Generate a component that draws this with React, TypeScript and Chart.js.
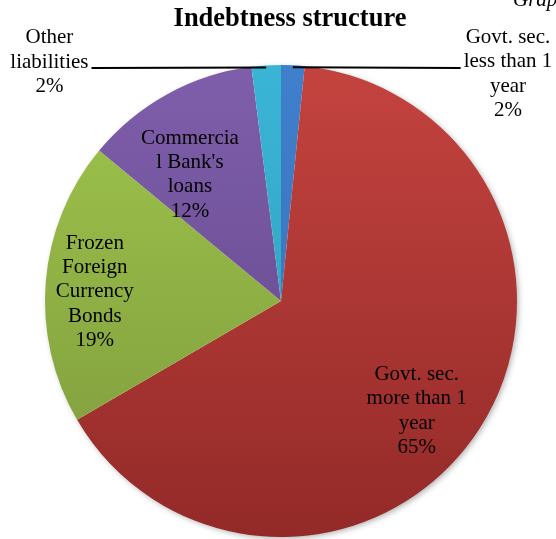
import React, { useEffect, useRef } from "react";
import { Chart, registerables } from "chart.js";

Chart.register(...registerables);

const categories = [
  "Govt. sec. less than 1 year",
  "Govt. sec. more than 1 year",
  "Frozen Foreign Currency Bonds",
  "Commercial Bank's loans",
  "Other liabilities",
];
const values = [1.6, 65.0, 19.4, 12.0, 2.0];
const percentLabels = ["2%", "65%", "19%", "12%", "2%"];
const labelLines = [
  ["Govt. sec.", "less than 1", "year", "2%"],
  ["Govt. sec.", "more than 1", "year", "65%"],
  ["Frozen", "Foreign", "Currency", "Bonds", "19%"],
  ["Commercia", "l Bank's", "loans", "12%"],
  ["Other", "liabilities", "2%"],
];
// label placement: angle (deg clockwise from 12 o'clock) and radius fraction
const labelAngles = [45, 129, 272.8, 324.2, 315.9];
const labelRadii = [1.36, 0.74, 0.79, 0.66, 1.41];
const hasLeader = [true, false, false, false, true];
const title = "Indebtness structure";

const topColors = ["#3f7fcc", "#c4433f", "#a0c64c", "#7f5eab", "#3ab5d6"];
const bottomColors = ["#3a6fb5", "#932a28", "#7c983c", "#5f4586", "#2f9ab6"];

const FONT = '"Liberation Serif", "Times New Roman", serif';

export default function App() {
  const ref = useRef<HTMLCanvasElement | null>(null);
  useEffect(() => {
    if (!ref.current) return;
    const shadowPlugin = {
      id: "shadow",
      beforeDatasetsDraw(chart: any) {
        const meta = chart.getDatasetMeta(0);
        const a = meta.data[0];
        if (!a) return;
        const ctx = chart.ctx;
        ctx.save();
        ctx.shadowColor = "rgba(0,0,0,0.35)";
        ctx.shadowBlur = 6;
        ctx.shadowOffsetX = 2;
        ctx.shadowOffsetY = 2;
        ctx.fillStyle = "#ffffff";
        ctx.beginPath();
        ctx.arc(a.x, a.y, a.outerRadius - 1, 0, Math.PI * 2);
        ctx.fill();
        ctx.restore();
      },
    };
    const labelPlugin = {
      id: "labels",
      afterDatasetsDraw(chart: any) {
        const meta = chart.getDatasetMeta(0);
        const ctx = chart.ctx;
        ctx.save();
        // title
        ctx.fillStyle = "#000";
        ctx.font = `bold 26.5px ${FONT}`;
        ctx.textAlign = "center";
        ctx.textBaseline = "middle";
        ctx.fillText(title, 290, 19);
        // corner caption (cut off)
        ctx.font = `italic 21px ${FONT}`;
        ctx.textAlign = "left";
        ctx.textBaseline = "alphabetic";
        ctx.fillText("Graph 1", 513, 6);

        ctx.font = `21px ${FONT}`;
        ctx.textAlign = "center";
        ctx.textBaseline = "middle";
        const lh = 24.3;
        meta.data.forEach((arc: any, i: number) => {
          const cx = arc.x, cy = arc.y, R = arc.outerRadius;
          const ang = (labelAngles[i] * Math.PI) / 180;
          const lx = cx + Math.sin(ang) * R * labelRadii[i];
          const ly = cy - Math.cos(ang) * R * labelRadii[i];
          const lines = labelLines[i];
          const y0 = ly - ((lines.length - 1) * lh) / 2;
          ctx.fillStyle = "#000";
          lines.forEach((t, k) => ctx.fillText(t, lx, y0 + k * lh));
          if (hasLeader[i]) {
            const mid = (arc.startAngle + arc.endAngle) / 2;
            const ex = cx + Math.cos(mid) * R;
            const ey = cy + Math.sin(mid) * R;
            const w = ctx.measureText(lines[1]).width;
            const ly2 = y0 + lh + 6;
            const sx = ex < lx ? lx - w / 2 - 3 : lx + w / 2 + 3;
            ctx.strokeStyle = "#000";
            ctx.lineWidth = 2;
            ctx.beginPath();
            ctx.moveTo(sx, ly2);
            ctx.lineTo(ex, ey + 2);
            ctx.stroke();
          }
        });
        ctx.restore();
      },
    };
    const chart = new Chart(ref.current, {
      type: "pie",
      data: {
        labels: categories,
        datasets: [
          {
            data: values,
            borderWidth: 0,
            backgroundColor: (c: any) => {
              const ch = c.chart;
              const area = ch.chartArea;
              if (!area) return topColors[c.dataIndex];
              const g = ch.ctx.createLinearGradient(0, area.top, 0, area.bottom);
              g.addColorStop(0, topColors[c.dataIndex]);
              g.addColorStop(1, bottomColors[c.dataIndex]);
              return g;
            },
          },
        ],
      },
      options: {
        animation: false,
        responsive: false,
        layout: { padding: { top: 65, bottom: 2, left: 45, right: 39 } },
        plugins: {
          legend: { display: false },
          title: { display: false },
          tooltip: { enabled: false },
        },
      },
      plugins: [shadowPlugin, labelPlugin],
    });
    return () => chart.destroy();
  }, []);
  return (
    <div style={{ position: "absolute", left: 0, top: 0, width: 556, height: 539, background: "#fff" }}>
      <canvas ref={ref} width={556} height={539} style={{ display: "block" }} />
    </div>
  );
}
